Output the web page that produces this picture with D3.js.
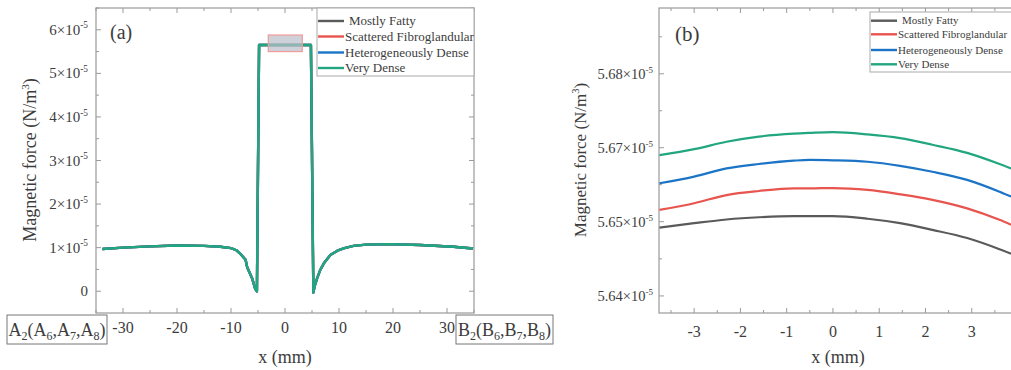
<!DOCTYPE html>
<html><head><meta charset="utf-8">
<script src="https://cdn.jsdelivr.net/npm/d3@7"></script>
<style>
body{margin:0;background:#fff}
</style>
</head><body>
<svg id="c" width="1011" height="370" font-family="'Liberation Serif', 'Times New Roman', serif"></svg>
<script>
// ---------- data ----------
const seriesNames = ["Mostly Fatty","Scattered Fibroglandular","Heterogeneously Dense","Very Dense"];
const seriesColors = ["#5a5a5a","#e8544e","#1b74c6","#22a67f"];

// Panel (a): full profile (all four series coincide at this scale), values in 1e-5 N/m^3
const aX = [-33.8,-30,-25,-20,-15,-12,-10,-9,-8.2,-7.3,-7.0,-6.1,-5.5,-5.2,-4.8,4.8,5.25,5.5,5.96,6.5,7.2,8.4,9.7,11,12.7,15,18.9,25,31.2,34.8];
const aY = [0.97,1.00,1.03,1.05,1.04,1.02,0.99,0.94,0.85,0.72,0.55,0.30,0.05,0.0,5.65,5.65,-0.03,0.12,0.30,0.48,0.64,0.83,0.93,0.99,1.04,1.07,1.08,1.06,1.02,0.98];
const aXTicks = [-30,-20,-10,0,10,20,30];
const aYTicks = [0,1,2,3,4,5,6];
const aYLabels = ["0","1×10","2×10","3×10","4×10","5×10","6×10"];
const zoomBoxX = [-3.1, 3.2];
const zoomBoxY = [5.5, 5.88];

// Panel (b): zoom on the plateau, values in 1e-5 N/m^3
const bX = [-3.75,-3.0,-2.3,-1.6,-0.85,-0.5,0,0.75,1.45,2.15,2.9,3.6,3.85];
const bMostlyFatty   = [5.6492,5.6498,5.6506,5.6512,5.6515,5.6515,5.6515,5.6508,5.6498,5.6489,5.6478,5.6463,5.6457];
const bScattered     = [5.6532,5.6550,5.6572,5.6583,5.6590,5.6590,5.6591,5.6586,5.6574,5.6559,5.6536,5.6505,5.6496];
const bHetero        = [5.6604,5.6622,5.6644,5.6656,5.6665,5.6667,5.6666,5.6662,5.6651,5.6635,5.6613,5.6581,5.6568];
const bVeryDense     = [5.6680,5.6696,5.6708,5.6715,5.6719,5.6720,5.6721,5.6718,5.6713,5.6704,5.6686,5.6656,5.6644];
const bSeries = [bMostlyFatty,bScattered,bHetero,bVeryDense];
const bXTicks = [-3,-2,-1,0,1,2,3,4];
const bYTicks = [5.64,5.65,5.67,5.68];          // labels exactly as printed on the figure
const bYMinor = [5.645,5.66,5.675,5.685];
const bYLabels = ["5.64×10","5.65×10","5.67×10","5.68×10"];

// ---------- drawing ----------
const svg = d3.select("#c");
const axisCol = "#9a9a9a";
const txtCol = "#3c3c3c";

function frame(x0,x1,y0,y1){
  svg.append("rect").attr("x",x0).attr("y",y0).attr("width",x1-x0).attr("height",y1-y0)
    .attr("fill","none").attr("stroke",axisCol).attr("stroke-width",1.2);
}
function ticks(xs, ys, majX, minX, majY, minY, x0,x1,y0,y1){
  const g = svg.append("g").attr("stroke",axisCol).attr("stroke-width",1);
  const tx = (v,len)=>{ const p = xs(v); if(p<x0-0.5||p>x1+0.5) return;
    g.append("line").attr("x1",p).attr("x2",p).attr("y1",y1).attr("y2",y1-len);
    g.append("line").attr("x1",p).attr("x2",p).attr("y1",y0).attr("y2",y0+len); };
  const ty = (v,len)=>{ const p = ys(v); if(p<y0-0.5||p>y1+0.5) return;
    g.append("line").attr("y1",p).attr("y2",p).attr("x1",x0).attr("x2",x0+len);
    g.append("line").attr("y1",p).attr("y2",p).attr("x1",x1).attr("x2",x1-len); };
  majX.forEach(v=>tx(v,5)); minX.forEach(v=>tx(v,3));
  majY.forEach(v=>ty(v,5)); minY.forEach(v=>ty(v,3));
}
function txt(x,y,size,anchor){
  return svg.append("text").attr("x",x).attr("y",y).attr("font-size",size)
    .attr("text-anchor",anchor||"start").attr("fill",txtCol);
}
function supLabel(x,y,base,sup,size,anchor){
  const t = txt(x,y,size,anchor||"end");
  t.append("tspan").text(base);
  if(sup){ t.append("tspan").attr("dy",-size*0.42).attr("font-size",size*0.62).text(sup); }
  return t;
}
function yTitle(x,y,size){
  const t = svg.append("text").attr("transform",`translate(${x},${y}) rotate(-90)`)
    .attr("text-anchor","middle").attr("font-size",size).attr("fill",txtCol);
  t.append("tspan").text("Magnetic force (N/m");
  t.append("tspan").attr("dy",-size*0.4).attr("font-size",size*0.62).text("3");
  t.append("tspan").attr("dy",size*0.4).text(")");
}
function legend(x0,y0,w,h,rowY,lineLen,size){
  svg.append("rect").attr("x",x0).attr("y",y0).attr("width",w).attr("height",h)
    .attr("fill","#fff").attr("stroke","#aaa").attr("stroke-width",1);
  seriesNames.forEach((n,i)=>{
    const yy = rowY[i];
    svg.append("line").attr("x1",x0+1).attr("x2",x0+1+lineLen).attr("y1",yy).attr("y2",yy)
      .attr("stroke",seriesColors[i]).attr("stroke-width",2.4);
    txt(x0+lineLen+(i===0?6:2),yy+size*0.33,size).text(n);
  });
}

// ----- Panel (a) -----
const aL=96,aR=474,aT=8,aB=313;
const xA = d3.scaleLinear([-35,35],[aL,aR]);
const yA = d3.scaleLinear([-0.5,6.5],[aB,aT]);
frame(aL,aR,aT,aB);
ticks(xA,yA,aXTicks,[-35,-25,-15,-5,5,15,25,35],aYTicks,[0.5,1.5,2.5,3.5,4.5,5.5,6.5],aL,aR,aT,aB);
aYTicks.forEach((v,i)=>supLabel(88,yA(v)+5,aYLabels[i],v===0?null:"-5",15,"end"));
aXTicks.forEach(v=>txt(xA(v),333,16,"middle").text(String(v)));
txt(285,363,18,"middle").text("x (mm)");
yTitle(36,160,18);
txt(110,39,20).text("(a)");

const lineA = d3.line().x((d,i)=>xA(aX[i])).y(d=>yA(d));
seriesNames.forEach((n,i)=>{
  svg.append("path").datum(aY).attr("d",lineA).attr("fill","none")
    .attr("stroke",seriesColors[i]).attr("stroke-width",2.4).attr("stroke-linejoin","round");
});
svg.append("rect").attr("x",xA(zoomBoxX[0])).attr("y",yA(zoomBoxY[1]))
  .attr("width",xA(zoomBoxX[1])-xA(zoomBoxX[0])).attr("height",yA(zoomBoxY[0])-yA(zoomBoxY[1]))
  .attr("fill","#b9bfc8").attr("fill-opacity",0.7).attr("stroke","#f19a9a").attr("stroke-width",1.2);
legend(317,8,157,68,[21,36.5,52.5,68],26,13);

// boxed point labels
function boxLabel(x0,w,letter){
  svg.append("rect").attr("x",x0).attr("y",315).attr("width",w).attr("height",29)
    .attr("fill","#fff").attr("stroke","#777").attr("stroke-width",1);
  const t = txt(x0+w/2,336,18,"middle");
  const parts = [[letter,"2"],["("+letter,"6"],[","+letter,"7"],[","+letter,"8"]];
  let first = true;
  parts.forEach(p=>{
    t.append("tspan").attr("dy",first?0:-4).text(p[0]);
    t.append("tspan").attr("dy",4).attr("font-size",12).text(p[1]);
    first = false;
  });
  t.append("tspan").attr("dy",-4).text(")");
}
boxLabel(7,100,"A");
boxLabel(456,97,"B");

// ----- Panel (b) -----
const bL=659,bR=1018,bT=8,bB=313;
const xB = d3.scaleLinear([-3.76,4.0],[bL,bR]);
const yB = d3.scaleLinear([5.6377,5.65,5.67,5.6889],[bB,221.7,147.7,bT]);
frame(bL,bR,bT,bB);
ticks(xB,yB,bXTicks,[-3.5,-2.5,-1.5,-0.5,0.5,1.5,2.5,3.5],bYTicks,bYMinor,bL,bR,bT,bB);
bYTicks.forEach((v,i)=>supLabel(653,yB(v)+5,bYLabels[i],"-5",14.5,"end"));
bXTicks.forEach(v=>{ if(xB(v)<1005) txt(xB(v),337,16,"middle").text(String(v)); });
txt(838,363,18,"middle").text("x (mm)");
yTitle(586,160,17);
txt(675,41,21).text("(b)");

const lineB = d3.line().x((d,i)=>xB(bX[i])).y(d=>yB(d)).curve(d3.curveMonotoneX);
bSeries.forEach((s,i)=>{
  svg.append("path").datum(s).attr("d",lineB).attr("fill","none")
    .attr("stroke",seriesColors[i]).attr("stroke-width",2.2);
});
legend(870,12,160,60,[20.7,34.3,50,64.3],26,11);
</script>
</body></html>
